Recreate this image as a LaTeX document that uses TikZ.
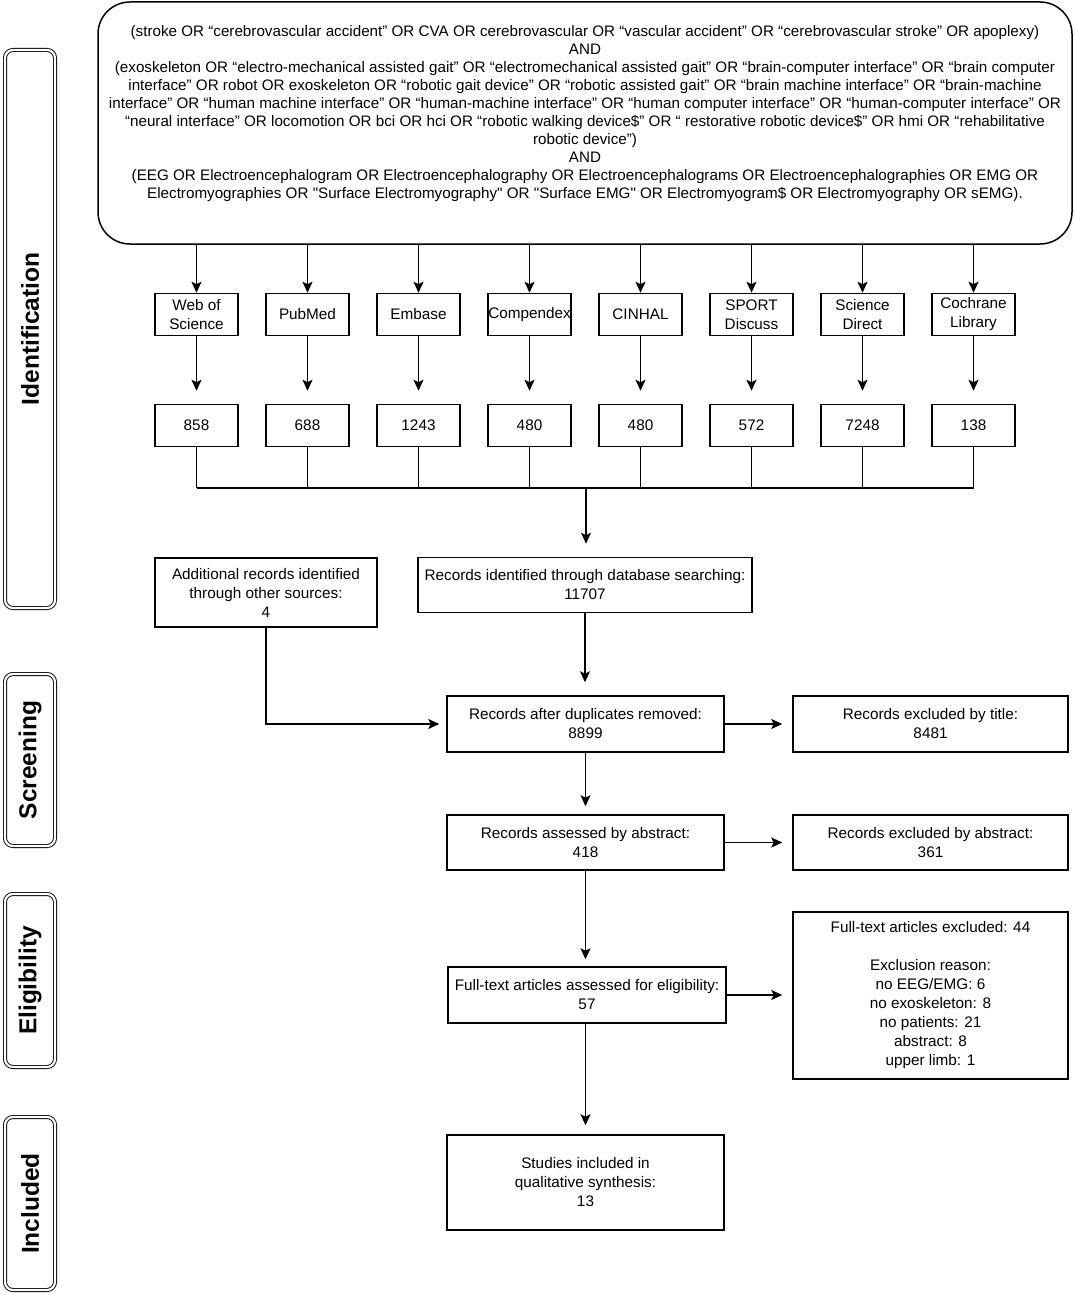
\documentclass[tikz,border=0pt]{standalone}
\usepackage{fontspec}
\newfontfamily\hv{Liberation Sans}
\usetikzlibrary{arrows.meta,calc}
\begin{document}
\begin{tikzpicture}[x=1pt,y=-1pt,
  lw/.style={line width=1.5pt},
  box/.style={draw, lw, align=center, inner sep=0pt, font=\hv\fontsize{15.3}{19}\selectfont},
  dbbox/.style={box, minimum width=83pt, minimum height=42pt},
  stage/.style={draw, line width=0.9pt, double=white, double distance=2.2pt, rounded corners=8pt,
     minimum width=50pt, inner sep=0pt, font=\hv\bfseries\fontsize{24.5}{28}\selectfont},
  arr/.style={lw, -{Stealth[length=11pt,width=10pt,inset=2.5pt]}},
  conn/.style={lw}
]
\useasboundingbox (0,0) rectangle (1074,1295);

% stage labels
\node[stage, minimum height=558pt] (sid) at (30,329) {\rotatebox{90}{Identification}};
\node[stage, minimum height=172pt] (ssc) at (30,760) {\rotatebox{90}{Screening}};
\node[stage, minimum height=173pt] (sel) at (30,980.5) {\rotatebox{90}{Eligibility}};
\node[stage, minimum height=173pt] (sin) at (30,1203.5) {\rotatebox{90}{Included}};

% top query box
\node[draw, lw, rounded corners=32pt, minimum width=974pt, minimum height=242pt, inner sep=0pt] (top) at (585,123) {};
\node[align=center, inner sep=0pt, font=\hv\fontsize{15.2}{18}\selectfont] (qtext) at (585,114) {%
(stroke OR “cerebrovascular accident” OR CVA OR cerebrovascular OR “vascular accident” OR “cerebrovascular stroke” OR apoplexy)\\
AND\\
(exoskeleton OR “electro-mechanical assisted gait” OR “electromechanical assisted gait” OR “brain-computer interface” OR “brain computer\\
interface” OR robot OR exoskeleton OR “robotic gait device” OR “robotic assisted gait” OR “brain machine interface” OR “brain-machine\\
interface” OR “human machine interface” OR “human-machine interface” OR “human computer interface” OR “human-computer interface” OR\\
“neural interface” OR locomotion OR bci OR hci OR “robotic walking device\$” OR “ restorative robotic device\$” OR hmi OR “rehabilitative\\
robotic device”)\\
AND\\
(EEG OR Electroencephalogram OR Electroencephalography OR Electroencephalograms OR Electroencephalographies OR EMG OR\\
Electromyographies OR "Surface Electromyography" OR "Surface EMG" OR Electromyogram\$ OR Electromyography OR sEMG).};

% databases
\node[dbbox] (db1) at (196.5,314.5) {Web of\\Science};
\node[dbbox] (db2) at (307.5,314.5) {PubMed};
\node[dbbox] (db3) at (418.5,314.5) {Embase};
\node[dbbox] (db4) at (529.5,314.5) {Compendex};
\node[dbbox] (db5) at (640.5,314.5) {CINHAL};
\node[dbbox] (db6) at (751.5,314.5) {SPORT\\Discuss};
\node[dbbox] (db7) at (862.5,314.5) {Science\\Direct};
\node[dbbox] (db8) at (973.5,314.5) {Cochrane\\Library};

\node[dbbox] (c1) at (196.5,425.5) {858};
\node[dbbox] (c2) at (307.5,425.5) {688};
\node[dbbox] (c3) at (418.5,425.5) {1243};
\node[dbbox] (c4) at (529.5,425.5) {480};
\node[dbbox] (c5) at (640.5,425.5) {480};
\node[dbbox] (c6) at (751.5,425.5) {572};
\node[dbbox] (c7) at (862.5,425.5) {7248};
\node[dbbox] (c8) at (973.5,425.5) {138};

\coordinate (bus) at (586,488);

\foreach \i in {1,...,8}{
  \draw[arr] (top.south -| db\i.north) -- (db\i.north);
  \draw[arr, shorten >=13pt] (db\i.south) -- (c\i.north);
  \draw[conn] (c\i.south) -- (c\i.south |- bus);
}
\draw[conn] (c1.south |- bus) -- (c8.south |- bus);

% flow boxes
\node[box, minimum width=222pt, minimum height=69pt] (add) at (266,592.5) {Additional records identified\\through other sources:\\4};
\node[box, minimum width=334pt, minimum height=55pt] (dbs) at (585,585) {Records identified through database searching:\\11707};
\node[box, minimum width=277pt, minimum height=56pt] (dup) at (585.5,724) {Records after duplicates removed:\\8899};
\node[box, minimum width=275pt, minimum height=56pt] (ext) at (930.5,724) {Records excluded by title:\\8481};
\node[box, minimum width=277pt, minimum height=55pt] (abs) at (585.5,842.5) {Records assessed by abstract:\\418};
\node[box, minimum width=275pt, minimum height=55pt] (exa) at (930.5,842.5) {Records excluded by abstract:\\361};
\node[box, minimum width=278pt, minimum height=56pt] (ft) at (587,995) {Full-text articles assessed for eligibility:\\57};
\node[box, minimum width=275pt, minimum height=167pt] (exf) at (930.5,995.5) {Full-text articles excluded: 44\\[19pt]Exclusion reason:\\no EEG/EMG: 6\\no exoskeleton: 8\\no patients: 21\\abstract: 8\\upper limb: 1};
\node[box, minimum width=277pt, minimum height=95pt] (inc) at (585.5,1182.5) {Studies included in\\qualitative synthesis:\\13};

% connectors
\draw[arr, shorten >=13pt] (bus) -- (bus |- dbs.north);
\draw[arr, shorten >=13pt] (dbs.south) -- (dbs.south |- dup.north);
\draw[arr, shorten >=7pt] (add.south) |- (dup.west);
\draw[arr, shorten >=10pt] (dup.east) -- (ext.west);
\draw[arr, shorten >=8pt] (dup.south) -- (abs.north);
\draw[arr, shorten >=10pt] (abs.east) -- (exa.west);
\draw[arr, shorten >=7pt] (abs.south) -- (abs.south |- ft.north);
\draw[arr, shorten >=10pt] (ft.east) -- (ft.east -| exf.west);
\draw[arr, shorten >=9pt] (ft.south -| abs.south) -- (abs.south |- inc.north);
\end{tikzpicture}
\end{document}
